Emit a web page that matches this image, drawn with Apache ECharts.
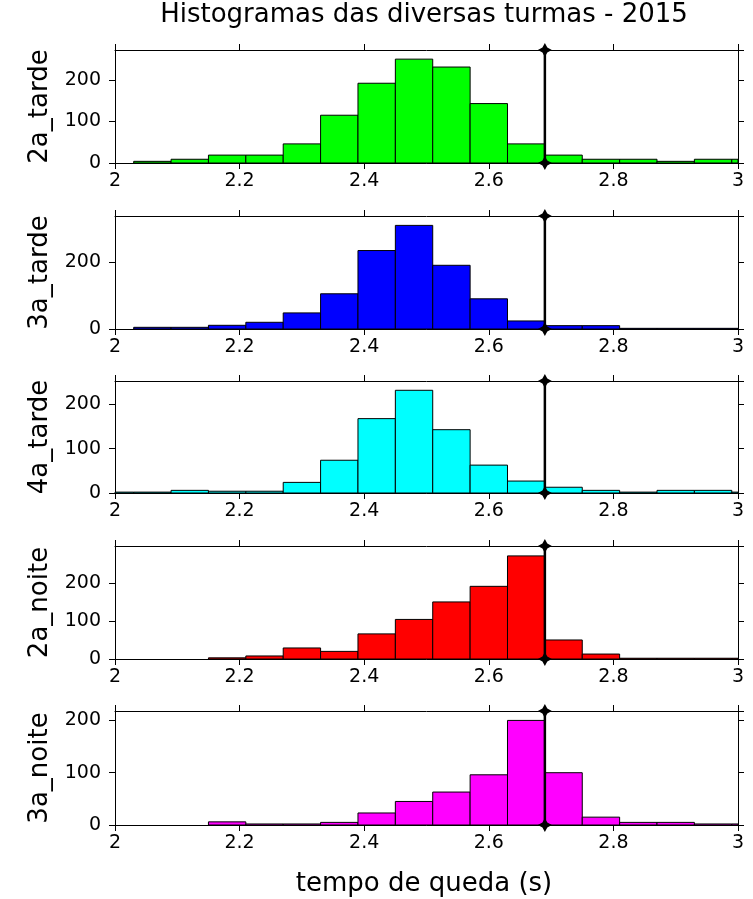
<!DOCTYPE html>
<html>
<head>
<meta charset="utf-8">
<script src="https://cdn.jsdelivr.net/npm/echarts@6/dist/echarts.min.js"></script>
<style>
html,body{margin:0;padding:0;background:#fff;}
#chart{width:753px;height:899px;}
</style>
</head>
<body>
<div id="chart"></div>
<script>
// ---- data ----
const chartTitle = 'Histogramas das diversas turmas - 2015';
const xAxisTitle = 'tempo de queda (s)';
const groupNames = ['2a_tarde', '3a_tarde', '4a_tarde', '2a_noite', '3a_noite'];
const groupColors = ['#00ff00', '#0000ff', '#00ffff', '#ff0000', '#ff00ff'];
const binWidth = 0.06;
const binCenters = [2.00, 2.06, 2.12, 2.18, 2.24, 2.30, 2.36, 2.42, 2.48, 2.54, 2.60, 2.66, 2.72, 2.78, 2.84, 2.90, 2.96, 3.02];
const counts2aTarde = [0, 4, 9, 19, 19, 46, 115, 192, 250, 231, 143, 46, 19, 9, 9, 4, 9, 9];
const counts3aTarde = [0, 5, 5, 11, 20, 48, 105, 234, 309, 190, 90, 24, 10, 10, 2, 2, 2, 2];
const counts4aTarde = [2, 2, 6, 4, 4, 24, 74, 168, 232, 143, 63, 27, 13, 6, 2, 6, 6, 2];
const counts2aNoite = [0, 0, 0, 3, 8, 29, 20, 66, 104, 150, 191, 271, 50, 13, 2, 2, 2, 2];
const counts3aNoite = [0, 0, 0, 6, 2, 2, 5, 23, 45, 63, 96, 200, 100, 15, 5, 5, 2, 2];
const yMaxes = [272, 337, 253, 297, 218];
const yIntervals = [100, 200, 100, 100, 100];
const xMin = 2, xMax = 3, xInterval = 0.2;
const referenceTime = 2.69;

const allCounts = [counts2aTarde, counts3aTarde, counts4aTarde, counts2aNoite, counts3aNoite];

// ---- layout ----
const gridTops = [50, 216, 381, 546, 711];
const gridHeights = [113, 113, 112, 113, 114];
const FONT = 'DejaVu Sans';
const starPath = 'path://M0,-10 L3.5,-3.5 L10,0 L3.5,3.5 L0,10 L-3.5,3.5 L-10,0 L-3.5,-3.5 Z';

const chart = echarts.init(document.getElementById('chart'), null, {renderer: 'canvas'});

const grids = [], xAxes = [], yAxes = [], series = [];
const axisLine = {show: true, onZero: false, lineStyle: {color: '#000', width: 1}};
const axisTick = {show: true, inside: false, length: 6, lineStyle: {color: '#000', width: 1}};

groupNames.forEach((name, i) => {
  grids.push({left: 115, right: 15, top: gridTops[i], height: gridHeights[i], containLabel: false});
  xAxes.push({
    type: 'value', gridIndex: i, position: 'bottom', min: xMin, max: xMax, interval: xInterval,
    axisLine, axisTick, splitLine: {show: false},
    axisLabel: {color: '#000', fontFamily: FONT, fontSize: 19, margin: 9}
  });
  xAxes.push({
    type: 'value', gridIndex: i, position: 'top', min: xMin, max: xMax, interval: xInterval,
    axisLine, axisTick, splitLine: {show: false}, axisLabel: {show: false}
  });
  yAxes.push({
    type: 'value', gridIndex: i, position: 'left', min: 0, max: yMaxes[i], interval: yIntervals[i],
    axisLine, axisTick, splitLine: {show: false},
    axisLabel: {color: '#000', fontFamily: FONT, fontSize: 19, margin: 14, showMaxLabel: false},
    name: name, nameLocation: 'middle', nameRotate: 90, nameGap: 62,
    nameTextStyle: {color: '#000', fontFamily: FONT, fontSize: 26}
  });
  yAxes.push({
    type: 'value', gridIndex: i, position: 'right', min: 0, max: yMaxes[i], interval: yIntervals[i],
    axisLine, axisTick, splitLine: {show: false}, axisLabel: {show: false}
  });

  const data = binCenters.map((c, k) => [c, allCounts[i][k]]);
  series.push({
    type: 'custom', xAxisIndex: 2 * i, yAxisIndex: 2 * i,
    data: data,
    renderItem: function (params, api) {
      const c = api.value(0), v = api.value(1);
      if (!v) return null;
      const p1 = api.coord([c - binWidth / 2, v]);
      const p2 = api.coord([c + binWidth / 2, 0]);
      const rect = echarts.graphic.clipRectByRect(
        {x: p1[0], y: p1[1], width: p2[0] - p1[0], height: p2[1] - p1[1]},
        {x: params.coordSys.x, y: params.coordSys.y, width: params.coordSys.width, height: params.coordSys.height}
      );
      if (!rect) return null;
      return {
        type: 'rect', shape: rect,
        style: {fill: groupColors[i], stroke: '#000', lineWidth: 1}
      };
    },
    animation: false, silent: true
  });
  series.push({
    type: 'line', xAxisIndex: 2 * i, yAxisIndex: 2 * i,
    data: [[referenceTime, 0], [referenceTime, yMaxes[i]]],
    symbol: starPath, symbolSize: 14, showSymbol: true, clip: false,
    itemStyle: {color: '#000'}, lineStyle: {color: '#000', width: 2.5},
    z: 5, animation: false, silent: true
  });
});

chart.setOption({
  backgroundColor: '#fff',
  animation: false,
  grid: grids, xAxis: xAxes, yAxis: yAxes, series: series,
  graphic: [
    {type: 'text', x: 0, y: 0, style: {
      text: chartTitle, x: 424, y: 15, align: 'center', verticalAlign: 'middle',
      font: '26px "DejaVu Sans"', fill: '#000'}},
    {type: 'text', x: 0, y: 0, style: {
      text: xAxisTitle, x: 424, y: 884, align: 'center', verticalAlign: 'middle',
      font: '26px "DejaVu Sans"', fill: '#000'}}
  ]
});
</script>
</body>
</html>
